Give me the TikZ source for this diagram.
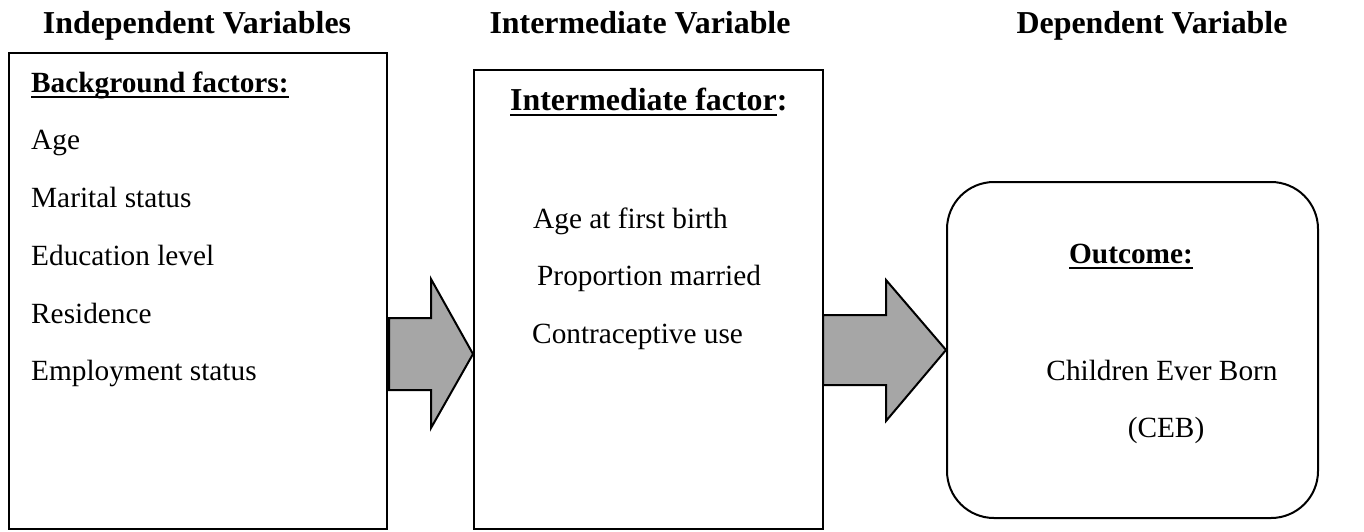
\documentclass[tikz,border=0pt]{standalone}
\usepackage{fontspec}
\setmainfont{Liberation Serif}
\usetikzlibrary{positioning,calc}
\definecolor{arrowgray}{RGB}{166,166,166}
\newcommand{\undl}[1]{\sbox0{#1}\rlap{\rule[-6pt]{\wd0}{2.2pt}}\usebox0}

\begin{document}
\begin{tikzpicture}[x=1pt, y=-1pt, head/.style = {anchor=base, font=\fontsize{31.9}{38}\selectfont\bfseries}, item/.style = {anchor=base west, inner sep=0pt, font=\fontsize{29.3}{35}\selectfont}, panel/.style = {draw, line width=2pt, inner sep=0pt}, bigarrow/.style = {draw, line width=2pt, fill=arrowgray, line join=miter}]

\useasboundingbox (0,0) rectangle (1364,531);

\node[head] (hind) at (197,33) {Independent Variables};
\node[head] (hint) at (640,33) {Intermediate Variable};
\node[head] (hdep) at (1152,33) {Dependent Variable};

\node[panel, minimum width=378pt, minimum height=476pt] (bg) at (198,291) {};
\node[panel, minimum width=349pt, minimum height=459pt] (mid) at (648.5,299.5) {};
\node[panel, rounded corners=47pt, minimum width=371pt, minimum height=336pt] (out) at (1132.5,350) {};

% background factors
\node[item, font=\fontsize{29.3}{35}\selectfont\bfseries] (bgtitle) at (31,92) {\undl{Background factors:}};
\node[item] (age) at (31,149) {Age};
\node[item] (mar) at (31,207) {Marital status};
\node[item] (edu) at (31,265) {Education level};
\node[item] (res) at (31,323) {Residence};
\node[item] (emp) at (31,380) {Employment status};

% intermediate factors
\node[item, font=\fontsize{31.9}{38}\selectfont\bfseries] (midtitle) at (510,110) {\undl{Intermediate factor}:};
\node[item] (afb) at (533,228) {Age at first birth};
\node[item] (pmar) at (537,285) {Proportion married};
\node[item] (cuse) at (532,343) {Contraceptive use};

% outcome
\node[item, anchor=base, font=\fontsize{29.3}{35}\selectfont\bfseries] (outtitle) at (1131,263) {\undl{Outcome:}};
\node[item, anchor=base] (ceb) at (1162,380) {Children Ever Born};
\node[item, anchor=base] (cebs) at (1166,437) {(CEB)};

% block arrows
\coordinate (a1) at (389,354);
\coordinate (a1t) at (mid.west |- a1);
\draw[bigarrow] ($(a1)+(0,-36)$) -- ($(a1t)+(-42,-36)$) -- ($(a1t)+(-42,-75)$) -- (a1t)
  -- ($(a1t)+(-42,74)$) -- ($(a1t)+(-42,36)$) -- ($(a1)+(0,36)$) -- cycle;

\coordinate (a2) at (823,350);
\coordinate (a2t) at (out.west |- a2);
\draw[bigarrow] ($(a2)+(0,-35)$) -- ($(a2t)+(-60,-35)$) -- ($(a2t)+(-60,-70)$) -- (a2t)
  -- ($(a2t)+(-60,71)$) -- ($(a2t)+(-60,35)$) -- ($(a2)+(0,35)$) -- cycle;
\end{tikzpicture}
\end{document}
